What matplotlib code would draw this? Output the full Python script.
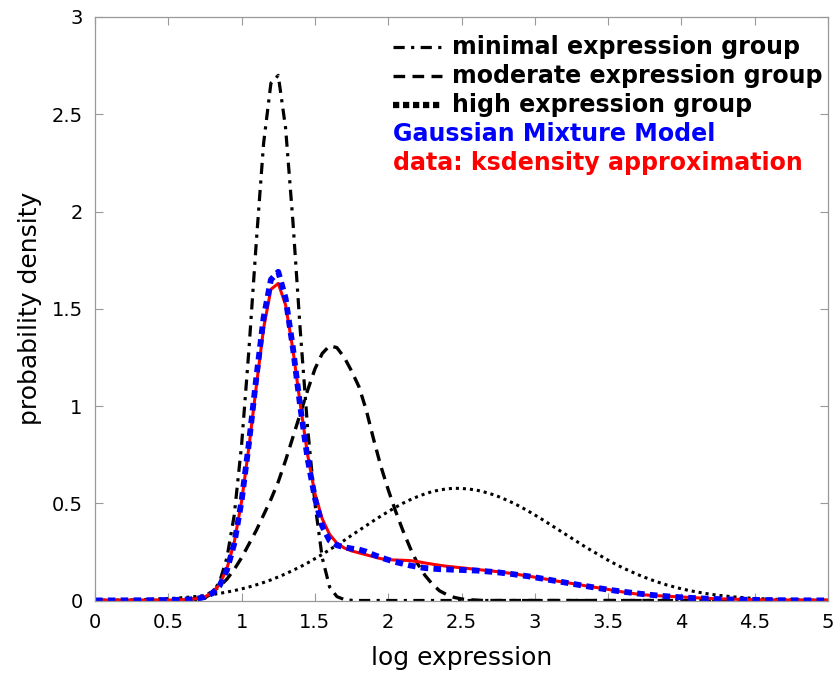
import matplotlib
matplotlib.use("Agg")
import matplotlib.pyplot as plt
from matplotlib.lines import Line2D

plt.rcParams['font.family'] = ['DejaVu Sans']

# sampling positions (log expression)
x = [0.00, 0.05, 0.10, 0.15, 0.20, 0.25, 0.30, 0.35, 0.40, 0.45,
     0.50, 0.55, 0.60, 0.65, 0.70, 0.75, 0.80, 0.85, 0.90, 0.95,
     1.00, 1.05, 1.10, 1.15, 1.20, 1.25, 1.30, 1.35, 1.40, 1.45,
     1.50, 1.55, 1.60, 1.65, 1.70, 1.75, 1.80, 1.85, 1.90, 1.95,
     2.00, 2.05, 2.10, 2.15, 2.20, 2.25, 2.30, 2.35, 2.40, 2.45,
     2.50, 2.55, 2.60, 2.65, 2.70, 2.75, 2.80, 2.85, 2.90, 2.95,
     3.00, 3.05, 3.10, 3.15, 3.20, 3.25, 3.30, 3.35, 3.40, 3.45,
     3.50, 3.55, 3.60, 3.65, 3.70, 3.75, 3.80, 3.85, 3.90, 3.95,
     4.00, 4.05, 4.10, 4.15, 4.20, 4.25, 4.30, 4.35, 4.40, 4.45,
     4.50, 4.55, 4.60, 4.65, 4.70, 4.75, 4.80, 4.85, 4.90, 4.95,
     5.00]

minimal = [0, 0, 0, 0, 0, 0, 0, 0, 0, 0,
           0, 0, 0, 0, 0.004, 0.013, 0.038, 0.096, 0.22, 0.44,
           0.80, 1.29, 1.84, 2.35, 2.66, 2.70, 2.43, 1.95, 1.39, 0.89,
           0.50, 0.22, 0.07, 0.02, 0.005, 0.001, 0, 0, 0, 0,
           0, 0, 0, 0, 0, 0, 0, 0, 0, 0,
           0, 0, 0, 0, 0, 0, 0, 0, 0, 0,
           0, 0, 0, 0, 0, 0, 0, 0, 0, 0,
           0, 0, 0, 0, 0, 0, 0, 0, 0, 0,
           0, 0, 0, 0, 0, 0, 0, 0, 0, 0,
           0, 0, 0, 0, 0, 0, 0, 0, 0, 0,
           0]

moderate = [0, 0, 0, 0, 0, 0, 0, 0, 0, 0,
            0, 0, 0, 0.005, 0.012, 0.025, 0.045, 0.072, 0.11, 0.16,
            0.22, 0.29, 0.36, 0.44, 0.52, 0.61, 0.72, 0.84, 0.96, 1.08,
            1.19, 1.27, 1.31, 1.30, 1.25, 1.18, 1.10, 0.98, 0.83, 0.69,
            0.57, 0.46, 0.36, 0.27, 0.19, 0.13, 0.085, 0.05, 0.03, 0.016,
            0.008, 0.004, 0.002, 0, 0, 0, 0, 0, 0, 0,
            0, 0, 0, 0, 0, 0, 0, 0, 0, 0,
            0, 0, 0, 0, 0, 0, 0, 0, 0, 0,
            0, 0, 0, 0, 0, 0, 0, 0, 0, 0,
            0, 0, 0, 0, 0, 0, 0, 0, 0, 0,
            0]

high = [0.001, 0.0013, 0.0016, 0.002, 0.0026, 0.0033, 0.0041, 0.0051, 0.0064, 0.008,
        0.0098, 0.012, 0.0147, 0.0178, 0.0215, 0.0258, 0.0308, 0.0366, 0.0434, 0.051,
        0.0597, 0.0694, 0.0804, 0.0926, 0.106, 0.121, 0.137, 0.155, 0.173, 0.193,
        0.215, 0.237, 0.261, 0.285, 0.309, 0.335, 0.360, 0.385, 0.410, 0.434,
        0.457, 0.479, 0.500, 0.518, 0.534, 0.548, 0.560, 0.568, 0.574, 0.577,
        0.576, 0.573, 0.568, 0.559, 0.548, 0.535, 0.519, 0.502, 0.483, 0.462,
        0.440, 0.417, 0.393, 0.369, 0.345, 0.321, 0.297, 0.273, 0.251, 0.229,
        0.207, 0.187, 0.168, 0.151, 0.134, 0.119, 0.105, 0.092, 0.080, 0.070,
        0.060, 0.052, 0.0445, 0.038, 0.032, 0.027, 0.023, 0.019, 0.016, 0.013,
        0.011, 0.009, 0.0075, 0.006, 0.005, 0.004, 0.003, 0.0025, 0.002, 0.0015,
        0.001]

gmm = [0.0003, 0.0004, 0.0004, 0.0005, 0.0007, 0.0009, 0.0011, 0.0014, 0.0017, 0.0022,
       0.0026, 0.003, 0.004, 0.0056, 0.010, 0.018, 0.037, 0.076, 0.156, 0.293,
       0.513, 0.810, 1.143, 1.454, 1.650, 1.690, 1.554, 1.299, 0.997, 0.730,
       0.527, 0.382, 0.308, 0.284, 0.274, 0.267, 0.262, 0.251, 0.235, 0.221,
       0.209, 0.198, 0.189, 0.180, 0.173, 0.167, 0.164, 0.161, 0.160, 0.158,
       0.157, 0.155, 0.154, 0.151, 0.148, 0.1445, 0.140, 0.1355, 0.130, 0.125,
       0.119, 0.1126, 0.106, 0.0996, 0.0932, 0.0867, 0.0802, 0.0737, 0.0678, 0.0618,
       0.0559, 0.0505, 0.0454, 0.0408, 0.0362, 0.0321, 0.0284, 0.0248, 0.0216, 0.0189,
       0.0162, 0.014, 0.012, 0.0103, 0.0086, 0.0073, 0.0062, 0.0051, 0.0043, 0.0035,
       0.003, 0.0024, 0.002, 0.0016, 0.0013, 0.0011, 0.0008, 0.0007, 0.0005, 0.0004,
       0.0003]

ksdensity = [0.002, 0.002, 0.002, 0.002, 0.002, 0.002, 0.002, 0.002, 0.002, 0.002,
             0.002, 0.003, 0.004, 0.006, 0.010, 0.019, 0.040, 0.082, 0.165, 0.30,
             0.51, 0.79, 1.10, 1.40, 1.60, 1.63, 1.52, 1.29, 1.01, 0.75,
             0.55, 0.42, 0.34, 0.295, 0.27, 0.255, 0.245, 0.235, 0.225, 0.215,
             0.21, 0.208, 0.207, 0.205, 0.200, 0.193, 0.187, 0.181, 0.176, 0.172,
             0.168, 0.164, 0.160, 0.156, 0.152, 0.148, 0.143, 0.138, 0.132, 0.126,
             0.120, 0.113, 0.107, 0.100, 0.094, 0.088, 0.082, 0.075, 0.069, 0.063,
             0.057, 0.050, 0.044, 0.038, 0.033, 0.029, 0.026, 0.024, 0.022, 0.020,
             0.018, 0.016, 0.014, 0.012, 0.010, 0.009, 0.008, 0.007, 0.006, 0.005,
             0.004, 0.003, 0.003, 0.003, 0.003, 0.002, 0.002, 0.002, 0.002, 0.002,
             0.002]

xticks = [0, 0.5, 1, 1.5, 2, 2.5, 3, 3.5, 4, 4.5, 5]
xticklabels = ['0', '0.5', '1', '1.5', '2', '2.5', '3', '3.5', '4', '4.5', '5']
yticks = [0, 0.5, 1, 1.5, 2, 2.5, 3]
yticklabels = ['0', '0.5', '1', '1.5', '2', '2.5', '3']

legend_labels = ['minimal expression group', 'moderate expression group',
                 'high expression group', 'Gaussian Mixture Model',
                 'data: ksdensity approximation']

W, H = 839, 685
fig = plt.figure(figsize=(W / 100, H / 100), dpi=100)
ax_l, ax_r, ax_t, ax_b = 95, 828, 17, 600.5
ax = fig.add_axes([ax_l / W, 1 - ax_b / H, (ax_r - ax_l) / W, (ax_b - ax_t) / H])

dashdot = (0, (3.5, 2.0, 1.0, 2.0))
dashed = (0, (3.5, 2.2))
dotted = (0, (1.0, 1.3))
gmmdot = (0, (1.3, 0.9))

ax.plot(x, minimal, color='black', lw=2.3, linestyle=dashdot)
ax.plot(x, moderate, color='black', lw=2.4, linestyle=dashed)
ax.plot(x, high, color='black', lw=2.2, linestyle=dotted)
ax.plot(x, ksdensity, color='#ff0000', lw=2.2, solid_capstyle='round')
ax.plot(x, gmm, color='#0000ff', lw=4.2, linestyle=gmmdot)

ax.set_xlim(0, 5)
ax.set_ylim(0, 3)
ax.set_xticks(xticks)
ax.set_xticklabels(xticklabels)
ax.set_yticks(yticks)
ax.set_yticklabels(yticklabels)
ax.tick_params(direction='in', length=6, width=0.8, color='#999999',
               top=True, right=True, labelsize=14, pad=9)
for s in ax.spines.values():
    s.set_color('#999999')
    s.set_linewidth(0.9)

ax.set_xlabel('log expression', fontsize=18, labelpad=10)
ax.set_ylabel('probability density', fontsize=18, labelpad=7)


def axc(px, py):
    return ((px - ax_l) / (ax_r - ax_l), (ax_b - py) / (ax_b - ax_t))


rows = [47, 76, 105, 134, 163]
styles = [(dashdot, 2.3), (dashed, 2.4), ((0, (1.0, 0.6)), 4.5)]
for i in range(3):
    x0, y0 = axc(393, rows[i])
    x1, _ = axc(442, rows[i])
    ax.add_line(Line2D([x0, x1], [y0, y0], transform=ax.transAxes,
                       color='black', lw=styles[i][1], linestyle=styles[i][0]))
    tx, ty = axc(452, rows[i])
    ax.text(tx, ty, legend_labels[i], transform=ax.transAxes, ha='left',
            va='center', fontsize=17.1, fontweight='bold', color='black')
for i, c in zip([3, 4], ['#0000ff', '#ff0000']):
    tx, ty = axc(393, rows[i])
    ax.text(tx, ty, legend_labels[i], transform=ax.transAxes, ha='left',
            va='center', fontsize=17.1, fontweight='bold', color=c)

fig.savefig('out.png', dpi=100, facecolor='white')
